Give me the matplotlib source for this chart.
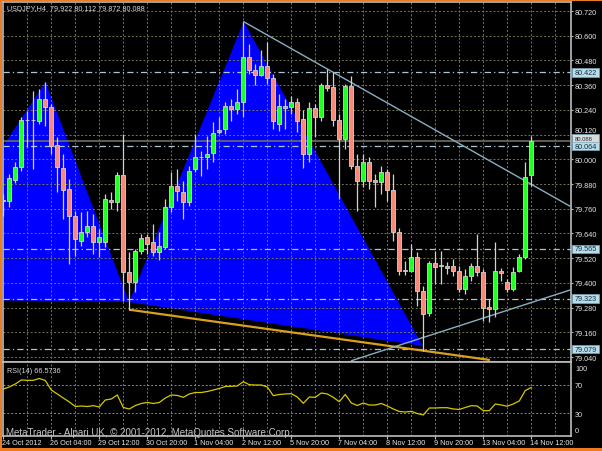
import matplotlib
matplotlib.use("Agg")
import matplotlib.pyplot as plt
import matplotlib.transforms as mtransforms
from matplotlib.patches import Rectangle, Polygon

# ---------------- data ----------------
opens = [79.805, 79.798, 79.901, 79.961, 80.192, 80.190, 80.187, 80.293, 80.253, 80.070,
         79.956, 79.856, 79.726, 79.604, 79.649, 79.675, 79.599, 79.599, 79.803, 79.791,
         79.924, 79.452, 79.406, 79.557, 79.622, 79.597, 79.549, 79.573, 79.767, 79.872,
         79.843, 79.794, 79.953, 80.013, 80.010, 80.029, 80.131, 80.147, 80.260, 80.244,
         80.277, 80.495, 80.435, 80.411, 80.452, 80.393, 80.171, 80.257, 80.253, 80.277,
         80.196, 80.026, 80.248, 80.204, 80.361, 80.350, 80.191, 80.099, 80.357, 79.969,
         79.896, 79.986, 79.900, 79.888, 79.940, 79.851, 79.649, 79.464, 79.459, 79.524,
         79.362, 79.254, 79.497, 79.484, 79.484, 79.481, 79.457, 79.371, 79.432, 79.481,
         79.452, 79.282, 79.274, 79.457, 79.406, 79.371, 79.457, 79.524, 79.922]
highs = [79.832, 79.929, 79.985, 80.204, 80.233, 80.333, 80.341, 80.374, 80.269, 80.107,
         80.026, 79.905, 79.749, 79.744, 79.751, 79.735, 79.662, 79.832, 79.841, 79.937,
         80.123, 79.550, 79.565, 79.638, 79.638, 79.686, 79.646, 79.808, 79.937, 79.953,
         79.896, 79.969, 80.123, 80.042, 80.115, 80.180, 80.206, 80.277, 80.293, 80.341,
         80.668, 80.560, 80.463, 80.532, 80.568, 80.414, 80.317, 80.293, 80.309, 80.298,
         80.239, 80.277, 80.269, 80.371, 80.438, 80.425, 80.220, 80.366, 80.403, 80.026,
         80.026, 80.011, 79.929, 79.969, 79.953, 79.929, 79.667, 79.506, 79.589, 79.549,
         79.387, 79.508, 79.556, 79.556, 79.500, 79.516, 79.484, 79.468, 79.497, 79.638,
         79.468, 79.322, 79.597, 79.471, 79.419, 79.476, 79.541, 79.986, 80.112]
lows = [79.725, 79.769, 79.885, 79.945, 80.058, 79.953, 80.171, 80.163, 80.026, 79.841,
        79.710, 79.492, 79.531, 79.579, 79.623, 79.540, 79.526, 79.574, 79.759, 79.751,
        79.314, 79.270, 79.356, 79.540, 79.540, 79.531, 79.513, 79.565, 79.743, 79.799,
        79.710, 79.772, 79.937, 79.921, 79.953, 79.988, 80.123, 80.123, 80.187, 80.220,
        80.206, 80.414, 80.361, 80.406, 80.366, 80.147, 80.138, 80.147, 80.220, 80.133,
        79.956, 79.986, 80.108, 80.186, 80.333, 80.162, 79.807, 80.050, 79.953, 79.751,
        79.866, 79.856, 79.769, 79.832, 79.799, 79.604, 79.439, 79.439, 79.453, 79.289,
        79.071, 79.241, 79.395, 79.395, 79.443, 79.435, 79.355, 79.346, 79.411, 79.435,
        79.217, 79.209, 79.233, 79.411, 79.355, 79.362, 79.452, 79.516, 79.872]
closes = [79.800, 79.909, 79.965, 80.192, 80.190, 80.192, 80.293, 80.253, 80.066, 79.961,
          79.851, 79.726, 79.613, 79.646, 79.678, 79.597, 79.623, 79.808, 79.791, 79.924,
          79.452, 79.406, 79.554, 79.618, 79.589, 79.549, 79.581, 79.767, 79.872, 79.848,
          79.791, 79.945, 80.010, 80.010, 80.026, 80.126, 80.142, 80.260, 80.244, 80.277,
          80.495, 80.435, 80.411, 80.452, 80.393, 80.186, 80.257, 80.248, 80.277, 80.187,
          80.026, 80.248, 80.204, 80.361, 80.345, 80.191, 80.099, 80.357, 79.969, 79.896,
          79.986, 79.896, 79.888, 79.940, 79.851, 79.646, 79.459, 79.458, 79.524, 79.362,
          79.249, 79.497, 79.476, 79.487, 79.471, 79.457, 79.371, 79.435, 79.481, 79.452,
          79.277, 79.274, 79.457, 79.448, 79.371, 79.455, 79.524, 79.916, 80.088]
rsi_values = [64.3, 67.2, 71.4, 77.1, 76.6, 76.6, 79.2, 76.4, 62.9, 57.3,
              51.6, 46.0, 39.6, 40.3, 39.6, 40.8, 38.9, 48.8, 50.2, 55.9,
              38.2, 36.1, 41.0, 43.9, 45.3, 43.9, 45.3, 51.6, 55.9, 55.2,
              52.6, 57.3, 59.4, 59.4, 60.8, 62.9, 65.1, 67.9, 68.2, 68.6,
              74.7, 70.4, 70.0, 70.0, 67.2, 54.9, 56.6, 57.3, 57.7, 53.0,
              44.1, 53.0, 52.6, 58.7, 57.3, 52.6, 46.4, 56.6, 44.6, 41.0,
              44.6, 41.7, 41.7, 43.9, 40.3, 36.1, 32.6, 31.8, 32.8, 29.7,
              27.6, 37.5, 37.5, 37.9, 37.9, 36.1, 35.4, 38.2, 40.8, 40.3,
              33.7, 33.7, 43.2, 41.7, 40.0, 43.2, 47.4, 62.2, 66.57]

date_labels = ["24 Oct 2012", "26 Oct 04:00", "29 Oct 12:00", "30 Oct 20:00",
               "1 Nov 04:00", "2 Nov 12:00", "5 Nov 20:00", "7 Nov 04:00",
               "8 Nov 12:00", "9 Nov 20:00", "13 Nov 04:00", "14 Nov 12:00"]
date_label_bars = [0, 8, 16, 24, 32, 40, 48, 56, 64, 72, 80, 88]
price_ticks = [80.720, 80.600, 80.480, 80.360, 80.240, 80.120, 80.000, 79.880,
               79.760, 79.640, 79.520, 79.400, 79.280, 79.160, 79.040]
level_prices = [80.422, 80.064, 79.565, 79.323, 79.079]
bid_price = 80.088
rsi_ticks = [100, 70, 30, 0]

# harmonic pattern triangles (bar index, price)
tri_xab_bars = [-16.98, 7.03, 20.95]
tri_xab_prices = [79.322, 80.375, 79.307]
tri_bcd_bars = [20.95, 40.07, 69.9]
tri_bcd_prices = [79.307, 80.668, 79.094]
# trend lines
orange_bars = [21.0, 81.1]
orange_prices = [79.270, 79.026]
tl1_bars = [40.07, 94.6]
tl1_prices = [80.668, 79.770]
tl2_bars = [58.07, 94.6]
tl2_prices = [79.023, 79.367]

# ---------------- figure ----------------
W, H = 602, 452
FONT = "Liberation Sans"
plt.rcParams["font.family"] = [FONT, "DejaVu Sans"]
fig = plt.figure(figsize=(W / 100, H / 100), dpi=100, facecolor="black")

ax = fig.add_axes([3 / W, 1 - 363 / H, 568 / W, 360 / H], facecolor="black")
axr = fig.add_axes([3 / W, 1 - 437 / H, 568 / W, 74 / H], facecolor="black")

XLIM = (-0.05, 94.62)
ax.set_xlim(*XLIM)
ax.set_ylim(79.0162, 80.7637)
axr.set_xlim(*XLIM)
axr.set_ylim(-2.08, 102.5)

FRAME = "#BDBDBD"
GRID = "#76774F"
LEVEL = "#A9C6D6"
TL = "#88AFC0"
TXT = "#E6E6E6"
FS = 5.2

for a in (ax, axr):
    for s in a.spines.values():
        s.set_color(FRAME)
        s.set_linewidth(1.2)
    a.set_xticks([])

# blue triangles
ax.add_patch(Polygon(list(zip(tri_xab_bars, tri_xab_prices)), closed=True,
                     facecolor="#0000FF", edgecolor="none", zorder=1))
ax.add_patch(Polygon(list(zip(tri_bcd_bars, tri_bcd_prices)), closed=True,
                     facecolor="#0000FF", edgecolor="none", zorder=1))

# grid
for a in (ax, axr):
    for k in range(4, 95, 4):
        a.axvline(k, color=GRID, lw=0.7, ls=(0, (2, 2)), zorder=2)
for p in price_ticks:
    ax.axhline(p, color=GRID, lw=0.7, ls=(0, (2, 2)), zorder=2)
for r in (70, 30):
    axr.axhline(r, color="#8C8C72", lw=0.7, ls=(0, (2, 2)), zorder=2)

# levels
for p in level_prices:
    ax.axhline(p, color=LEVEL, lw=0.9, ls=(0, (5, 2.5, 1, 2.5)), zorder=3)
ax.axhline(bid_price, color="#6E6E62", lw=1.2, zorder=2.5)

# trend lines
ax.plot(orange_bars, orange_prices, color="#D9A020", lw=1.6, zorder=3,
        solid_capstyle="butt")
ax.plot(tl1_bars, tl1_prices, color=TL, lw=1.0, zorder=3)
ax.plot(tl2_bars, tl2_prices, color=TL, lw=1.0, zorder=3)

# candles
WICK = "#D2D2D2"
for k, (o, h, l, c) in enumerate(zip(opens, highs, lows, closes)):
    ax.plot([k, k], [l, h], color=WICK, lw=0.9, zorder=4, solid_capstyle="butt")
    col = "#22FF22" if c > o else "#F58A78"
    lo, hi = min(o, c), max(o, c)
    ax.add_patch(Rectangle((k - 0.3, lo), 0.6, max(hi - lo, 0.0008),
                           facecolor=col, edgecolor=WICK, lw=0.6, zorder=5))

# price axis (the 80.120 label is nudged up a little to leave room for the boxes)
bt = mtransforms.blended_transform_factory(fig.transFigure, ax.transData)
ax.yaxis.tick_right()
ax.set_yticks(price_ticks)
ax.set_yticklabels([f"{p:.3f}" if abs(p - 80.120) > 1e-6 else "" for p in price_ticks])
ax.tick_params(axis="y", colors=FRAME, labelcolor=TXT, labelsize=FS,
               length=1.4, width=0.8, pad=1.5)
ax.text(575 / W, 80.120 + 0.021, "80.120", transform=bt, fontsize=FS, color=TXT,
        va="center", ha="left", clip_on=False)

# price boxes (bid box sits just above the 80.064 box, partly covered by it)
box_h = 0.0422
def price_box(p, shown_at, fc, z, fs=FS):
    ax.add_patch(Rectangle((572.3 / W, shown_at - box_h / 2), 26.7 / W, box_h,
                           transform=bt, facecolor=fc, edgecolor="#7FA7B7",
                           lw=0.5, clip_on=False, zorder=z))
    ax.text(574.3 / W, shown_at, f"{p:.3f}", transform=bt, fontsize=fs,
            color="#1B2B36", va="center", ha="left", clip_on=False, zorder=z + 0.1)
price_box(bid_price, bid_price + 0.0145, "#DADADA", 10, fs=4.2)
for p in level_prices:
    price_box(p, p, "#B5DDEC", 11)

# RSI
axr.plot(range(len(rsi_values)), rsi_values, color="#D6C800", lw=0.9, zorder=4)
axr.set_yticks([])
rt = mtransforms.blended_transform_factory(fig.transFigure, axr.transData)
rsi_label_pos = [94.0, 69.3, 29.0, 5.0]
for lab, yv in zip(rsi_ticks, rsi_label_pos):
    axr.text(575 / W, yv, str(lab), transform=rt, fontsize=FS, color=TXT,
             va="center", ha="left", clip_on=False)

# date ticks and labels
axr.set_xticks(date_label_bars)
axr.set_xticklabels([])
axr.tick_params(axis="x", colors=FRAME, length=2.2, width=0.8, direction="out")
dt = mtransforms.blended_transform_factory(axr.transData, fig.transFigure)
for k, lab in zip(date_label_bars, date_labels):
    axr.text(k - 0.15, 1 - 444 / H, lab, transform=dt, fontsize=FS, color=TXT,
             va="center", ha="left", clip_on=False)

# texts
fig.text(6.7 / W, 1 - 8.3 / H, "USDJPY,H4  79.922 80.112 79.872 80.088",
         fontsize=FS, color="#D8D8D8", va="center", ha="left")
fig.text(6.7 / W, 1 - 371.7 / H, "RSI(14) 66.5736", fontsize=FS,
         color="#D8D8D8", va="center", ha="left")
fig.text(6 / W, 1 - 433 / H,
         "MetaTrader - Alpari UK, \u00a9 2001-2012, MetaQuotes Software Corp.",
         fontsize=7.0, color="#C4C4C4", va="center", ha="left", zorder=20)

# orange window frame
ORANGE = "#F27A1E"
fig.add_artist(Rectangle((0, 0), 2 / W, 1, transform=fig.transFigure,
                         facecolor=ORANGE, edgecolor="none"))
fig.add_artist(Rectangle((0, 1 - 2 / H), 1, 2 / H, transform=fig.transFigure,
                         facecolor=ORANGE, edgecolor="none"))
fig.add_artist(Rectangle((0, 0), 1, 3 / H, transform=fig.transFigure,
                         facecolor=ORANGE, edgecolor="none"))

fig.savefig("out.png", dpi=100, facecolor="black")
